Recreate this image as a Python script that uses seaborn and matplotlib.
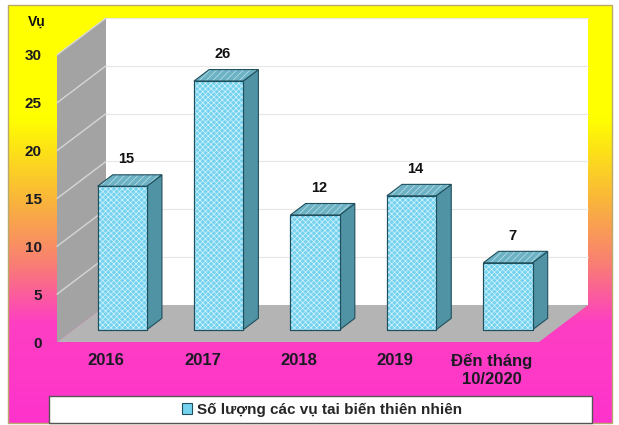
import numpy as np
import pandas as pd
import matplotlib
matplotlib.use("Agg")
import matplotlib.pyplot as plt
from matplotlib.patches import Polygon, Rectangle, Patch
from matplotlib.colors import LinearSegmentedColormap
import seaborn as sns

# data
years = ["2016", "2017", "2018", "2019", "Đến tháng\n10/2020"]
so_vu = [15, 26, 12, 14, 7]
y_ticks = [0, 5, 10, 15, 20, 25, 30]
series_name = "Số lượng các vụ tai biến thiên nhiên"
unit_label = "Vụ"

sns.set_theme(style="white")
plt.rcParams['font.family'] = ['Liberation Sans', 'DejaVu Sans']
plt.rcParams['hatch.linewidth'] = 0.5

W, H = 619, 425
fig = plt.figure(figsize=(W / 100, H / 100), dpi=100)

# yellow -> magenta background
bg = fig.add_axes([0, 0, 1, 1], zorder=-10)
cmap = LinearSegmentedColormap.from_list('bg', [
    (0.0, '#ffff00'), (0.27, '#ffff00'), (0.47, '#f9b43c'),
    (0.62, '#f97e74'), (0.76, '#fd3fc2'), (1.0, '#ff33cc')])
grad = np.linspace(0, 1, 256).reshape(-1, 1)
bg.imshow(grad, cmap=cmap, aspect='auto', extent=(8, 612, 423, 5))
bg.add_patch(Rectangle((8, 5), 604, 418, fill=False, ec='#b9a96a', lw=1))
bg.set_xlim(0, W)
bg.set_ylim(H, 0)
bg.axis('off')

# main axes = front plane of the 3D box
ax = fig.add_axes([57 / W, (H - 342) / H, (539 - 57) / W, (342 - 55) / H])
ax.patch.set_alpha(0)

df = pd.DataFrame({'nam': years, 'so_vu': so_vu})
sns.barplot(data=df, x='nam', y='so_vu', width=0.51, color='#74d2ef',
            saturation=1, edgecolor='#1f4f5c', linewidth=0.8, ax=ax, zorder=5)
bars = list(ax.patches)

x0, x1 = -0.508, 4.49
DX, DY = 0.508, 3.87        # depth of the box in data units
f0, fd = 0.33, 0.31         # where the bars sit in the depth

# walls and floor
ax.add_patch(Rectangle((x0 + DX, DY), x1 - x0, 30, fc='white', ec='none',
                       zorder=0, clip_on=False))
ax.add_patch(Polygon([(x0, 0), (x0 + DX, DY), (x0 + DX, 30 + DY), (x0, 30)],
                     fc='#a3a3a3', ec='none', zorder=1, clip_on=False))
ax.add_patch(Polygon([(x0, 0), (x1, 0), (x1 + DX, DY), (x0 + DX, DY)],
                     fc='#b4b4b4', ec='none', zorder=1, clip_on=False))
for v in y_ticks[1:]:
    ax.plot([x0 + DX, x1 + DX], [v + DY, v + DY], color='#e6e6e6', lw=0.8,
            zorder=0.5, clip_on=False)
    ax.plot([x0, x0 + DX], [v, v + DY], color='#d6d6d6', lw=1,
            zorder=1.5, clip_on=False)

ddx, ddy = fd * DX, fd * DY
for i, p in enumerate(bars):
    xl = p.get_x() + f0 * DX
    b = f0 * DY
    w, h = p.get_width(), p.get_height()
    xr = xl + w
    p.set_x(xl)
    p.set_y(b)
    p.set_clip_on(False)
    ax.add_patch(Rectangle((xl, b), w, h, fc='none', ec='#d4f3fc', lw=0,
                           hatch='xxxxxx', zorder=5.1, clip_on=False))
    ax.add_patch(Rectangle((xl, b), w, h, fc='none', ec='#1f4f5c', lw=0.8,
                           zorder=5.2, clip_on=False))
    side = [(xr, b), (xr + ddx, b + ddy), (xr + ddx, b + h + ddy), (xr, b + h)]
    ax.add_patch(Polygon(side, fc='#4f93a4', ec='#1f4f5c', lw=0.8,
                         zorder=4, clip_on=False))
    top = [(xl, b + h), (xr, b + h), (xr + ddx, b + h + ddy), (xl + ddx, b + h + ddy)]
    ax.add_patch(Polygon(top, fc='#6cb2c4', ec='none', zorder=4, clip_on=False))
    ax.add_patch(Polygon(top, fc='none', ec='#bfe2ea', lw=0, hatch='/////',
                         zorder=4.1, clip_on=False))
    ax.add_patch(Polygon(top, fc='none', ec='#1f4f5c', lw=0.8,
                         zorder=4.2, clip_on=False))
    ax.text(i + 0.21, so_vu[i] + 4.1, str(so_vu[i]), ha='center', va='center',
            fontsize=10.5, fontweight='bold', color='#111111')

ax.set_xlim(x0, x1)
ax.set_ylim(0, 30)
ax.set_yticks(y_ticks)
ax.set_xlabel('')
ax.set_ylabel('')
ax.tick_params(axis='y', length=0, pad=11, labelsize=11)
ax.tick_params(axis='x', length=0, pad=8, labelsize=12)
for lbl in ax.get_xticklabels() + ax.get_yticklabels():
    lbl.set_fontweight('bold')
    lbl.set_color('#1a1a22')
    lbl.set_linespacing(1.25)
for s in ax.spines.values():
    s.set_visible(False)
ax.grid(False)

ax.text(-0.041, 1.115, unit_label, transform=ax.transAxes, ha='center',
        va='center', fontsize=10, fontweight='bold', color='#111111')

# legend box along the bottom
fig.add_artist(Rectangle((49 / W, (H - 423) / H), (592 - 49) / W, (423 - 396) / H,
                         transform=fig.transFigure, fc='white', ec='#555555',
                         lw=1, zorder=20))
handle = Patch(facecolor='#74d2ef', edgecolor='#1f4f5c', linewidth=0.8)
leg = fig.legend(handles=[handle], labels=[series_name], loc='center',
                 bbox_to_anchor=(322 / W, (H - 410) / H), frameon=False,
                 handlelength=0.7, handleheight=0.7, handletextpad=0.3,
                 prop={'size': 11, 'weight': 'bold'}, borderpad=0)
leg.set_zorder(21)

fig.savefig('out.png', dpi=100)
